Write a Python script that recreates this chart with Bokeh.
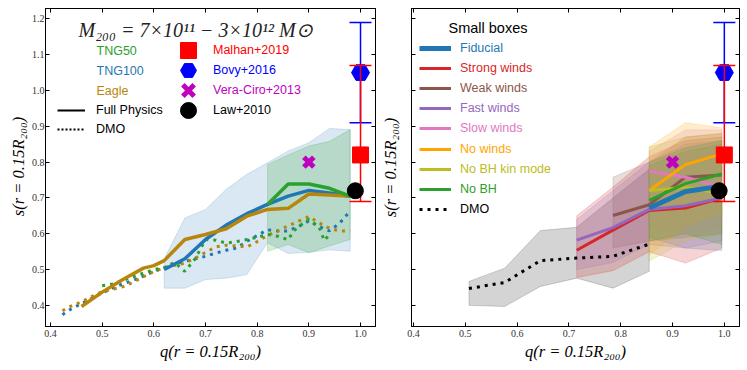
import math
from bokeh.plotting import figure
from bokeh.models import (Range1d, LinearAxis, FixedTicker, PrintfTickFormatter,
                          Legend, LegendItem, Label, ColumnDataSource)
from bokeh.layouts import row
from bokeh.embed import file_html
from bokeh.resources import INLINE

# ---------------- data ----------------
x_ticks = [0.4, 0.5, 0.6, 0.7, 0.8, 0.9, 1.0]
y_ticks = [0.4, 0.5, 0.6, 0.7, 0.8, 0.9, 1.0, 1.1, 1.2]
tick_format = "%.1f"

# Left panel: full physics medians
tng100_q = [0.62, 0.66, 0.70, 0.74, 0.78, 0.82, 0.86, 0.90, 0.94, 0.98]
tng100_s = [0.500, 0.530, 0.584, 0.624, 0.656, 0.682, 0.705, 0.721, 0.714, 0.705]
tng100_lo = [0.448, 0.448, 0.472, 0.476, 0.486, 0.575, 0.545, 0.548, 0.555, 0.551]
tng100_hi = [0.530, 0.644, 0.668, 0.724, 0.766, 0.798, 0.831, 0.854, 0.894, 0.891]

tng50_q = [0.82, 0.86, 0.90, 0.94, 0.98]
tng50_s = [0.682, 0.739, 0.739, 0.727, 0.705]
tng50_lo = [0.551, 0.570, 0.547, 0.566, 0.584]
tng50_hi = [0.793, 0.820, 0.845, 0.858, 0.891]

eagle_q = [0.46, 0.50, 0.54, 0.58, 0.60, 0.62, 0.66, 0.70, 0.74, 0.78, 0.82, 0.86, 0.90, 0.94, 0.98]
eagle_s = [0.397, 0.437, 0.472, 0.504, 0.511, 0.525, 0.584, 0.598, 0.614, 0.649, 0.668, 0.671, 0.711, 0.708, 0.705]

# Left panel: DMO
tng100_dmo_q = [0.423, 0.44, 0.46, 0.48, 0.50, 0.52, 0.54, 0.56, 0.58, 0.60, 0.62, 0.64, 0.66, 0.68,
                0.70, 0.72, 0.74, 0.76, 0.78, 0.80, 0.82, 0.84, 0.86, 0.88, 0.90, 0.92, 0.94, 0.96, 0.975]
tng100_dmo_s = [0.374, 0.390, 0.405, 0.420, 0.435, 0.448, 0.460, 0.470, 0.482, 0.495, 0.505, 0.515, 0.523, 0.530,
                0.537, 0.546, 0.554, 0.560, 0.579, 0.595, 0.611, 0.608, 0.608, 0.620, 0.636, 0.620, 0.608, 0.630, 0.655]
eagle_dmo_q = [0.423, 0.44, 0.46, 0.48, 0.50, 0.52, 0.54, 0.56, 0.58, 0.60, 0.62, 0.64, 0.66, 0.68,
               0.70, 0.72, 0.74, 0.76, 0.78, 0.80, 0.82, 0.84, 0.86, 0.88, 0.90, 0.92, 0.94, 0.96, 0.98]
eagle_dmo_s = [0.385, 0.398, 0.410, 0.425, 0.438, 0.445, 0.452, 0.465, 0.480, 0.495, 0.505, 0.512, 0.518, 0.532,
               0.548, 0.563, 0.568, 0.566, 0.563, 0.578, 0.595, 0.608, 0.622, 0.635, 0.648, 0.630, 0.615, 0.608, 0.608]
tng50_dmo_q = [0.50, 0.52, 0.54, 0.56, 0.58, 0.60, 0.62, 0.64, 0.66, 0.68, 0.70, 0.72, 0.74, 0.76,
               0.78, 0.80, 0.82, 0.84, 0.86, 0.87, 0.88, 0.90, 0.92, 0.93, 0.94]
tng50_dmo_s = [0.455, 0.460, 0.470, 0.480, 0.490, 0.500, 0.505, 0.520, 0.495, 0.530, 0.584, 0.582, 0.574, 0.578,
               0.584, 0.590, 0.598, 0.593, 0.583, 0.607, 0.620, 0.640, 0.618, 0.581, 0.598]

# Observations
obs_names = ["Malhan+2019", "Bovy+2016", "Vera-Ciro+2013", "Law+2010"]
obs_q = [1.0, 1.0, 0.90, 0.99]
obs_s = [0.82, 1.05, 0.80, 0.72]
malhan_lo, malhan_hi = 0.69, 1.07
bovy_lo, bovy_hi = 0.91, 1.19

# Right panel: small boxes
sb_names = ["Fiducial", "Strong winds", "Weak winds", "Fast winds", "Slow winds",
            "No winds", "No BH kin mode", "No BH"]
sb_q = {
    "Fiducial": [0.855, 0.925, 0.995],
    "Strong winds": [0.715, 0.785, 0.855, 0.925, 0.995],
    "Weak winds": [0.785, 0.855, 0.925, 0.995],
    "Fast winds": [0.715, 0.785, 0.855, 0.925, 0.995],
    "Slow winds": [0.855, 0.925, 0.995],
    "No winds": [0.855, 0.925, 0.995],
    "No BH kin mode": [0.855, 0.925, 0.995],
    "No BH": [0.855, 0.925, 0.995],
}
sb_s = {
    "Fiducial": [0.672, 0.718, 0.733],
    "Strong winds": [0.554, 0.610, 0.665, 0.672, 0.700],
    "Weak winds": [0.651, 0.681, 0.758, 0.764],
    "Fast winds": [0.582, 0.617, 0.668, 0.678, 0.700],
    "Slow winds": [0.775, 0.758, 0.730],
    "No winds": [0.721, 0.793, 0.823],
    "No BH kin mode": [0.721, 0.730, 0.712],
    "No BH": [0.693, 0.740, 0.767],
}
sb_lo = {
    "Fiducial": [0.590, 0.560, 0.553],
    "Strong winds": [0.478, 0.497, 0.550, 0.518, 0.560],
    "Weak winds": [0.560, 0.580, 0.590, 0.600],
    "Fast winds": [0.500, 0.520, 0.570, 0.560, 0.580],
    "Slow winds": [0.620, 0.600, 0.620],
    "No winds": [0.540, 0.620, 0.660],
    "No BH kin mode": [0.523, 0.580, 0.600],
    "No BH": [0.580, 0.600, 0.570],
}
sb_hi = {
    "Fiducial": [0.790, 0.830, 0.850],
    "Strong winds": [0.650, 0.730, 0.815, 0.860, 0.870],
    "Weak winds": [0.758, 0.800, 0.870, 0.880],
    "Fast winds": [0.640, 0.720, 0.800, 0.850, 0.860],
    "Slow winds": [0.830, 0.890, 0.890],
    "No winds": [0.842, 0.910, 0.896],
    "No BH kin mode": [0.842, 0.870, 0.880],
    "No BH": [0.800, 0.840, 0.860],
}
sb_dmo_q = [0.507, 0.576, 0.645, 0.715, 0.785, 0.855]
sb_dmo_s = [0.447, 0.464, 0.525, 0.532, 0.537, 0.571]
sb_dmo_lo = [0.400, 0.397, 0.453, 0.476, 0.448, 0.495]
sb_dmo_hi = [0.467, 0.504, 0.609, 0.618, 0.700, 0.780]

# ---------------- styles ----------------
SERIF = "Liberation Serif"
SANS = "Liberation Sans"
C_TNG50, C_TNG100, C_EAGLE = "#2ca02c", "#1f77b4", "#b8860b"
sb_colors = {
    "Fiducial": "#1f77b4", "Strong winds": "#d62728", "Weak winds": "#8c564b",
    "Fast winds": "#9467bd", "Slow winds": "#e377c2", "No winds": "#ffa500",
    "No BH kin mode": "#bcbd22", "No BH": "#2ca02c",
}
FRAME_H = 318
FT = 8  # page y of frame top
NAN = float("nan")
XLABEL = "q(r = 0.15R₂₀₀)"
YLABEL = "s(r = 0.15R₂₀₀)"
LABEL_W = 28


def fy(page_y):
    return FRAME_H - (page_y - FT)


def hide_labels(ax):
    ax.major_label_text_color = None
    ax.major_label_text_alpha = 0
    ax.major_label_text_font_size = "0px"
    ax.major_label_standoff = 0


def make_fig(xr, frame_w, mb_left, mb_right, show_ylabels):
    p = figure(frame_width=frame_w, frame_height=FRAME_H,
               x_range=Range1d(*xr), y_range=Range1d(0.341, 1.229),
               output_backend="svg", toolbar_location=None,
               min_border_left=mb_left, min_border_right=mb_right,
               min_border_top=FT, min_border_bottom=10)
    p.xgrid.visible = False
    p.ygrid.visible = False
    p.outline_line_color = "black"
    p.outline_line_alpha = 1.0
    p.background_fill_color = "white"
    p.border_fill_color = "white"
    p.xaxis.ticker = FixedTicker(ticks=x_ticks)
    p.yaxis.ticker = FixedTicker(ticks=y_ticks)
    p.xaxis.formatter = PrintfTickFormatter(format=tick_format)
    p.yaxis.formatter = PrintfTickFormatter(format=tick_format)
    for ax in p.axis:
        ax.major_tick_in = 4
        ax.major_tick_out = 0
        ax.minor_tick_in = 0
        ax.minor_tick_out = 0
        ax.axis_line_color = "black"
        ax.major_tick_line_color = "black"
        ax.major_label_text_font = SERIF
        ax.major_label_text_font_size = "10px"
        ax.major_label_text_color = "#333333"
        ax.major_label_standoff = 3
        ax.axis_label_text_font = SERIF
        ax.axis_label_text_font_style = "italic"
        ax.axis_label_text_font_size = "16.5px"
        ax.axis_label_text_color = "black"
    p.xaxis.axis_label = XLABEL
    p.xaxis.axis_label_standoff = 2
    if show_ylabels:
        p.yaxis.major_label_standoff = 1
    else:
        p.yaxis.axis_label = YLABEL
        for ax in p.yaxis:
            hide_labels(ax)
        p.yaxis.axis_label_standoff = 12
    for loc, tk in (("right", y_ticks), ("above", x_ticks)):
        ax = LinearAxis(ticker=FixedTicker(ticks=tk), major_tick_in=4, major_tick_out=0,
                        minor_tick_in=0, minor_tick_out=0, axis_line_color="black",
                        major_tick_line_color="black")
        hide_labels(ax)
        p.add_layout(ax, loc)
    return p


def add_leg(p, renderer, label, color, vx, page_y, glyph_w, standoff, size="12.5px"):
    leg = Legend(items=[LegendItem(label=label, renderers=[renderer])],
                 location=(vx, fy(page_y) - 20), glyph_width=glyph_w, glyph_height=40,
                 label_height=20, label_standoff=standoff, padding=0, margin=0, spacing=0,
                 border_line_alpha=0, background_fill_alpha=0,
                 label_text_color=color, label_text_font=SANS, label_text_font_size=size)
    p.add_layout(leg)


def add_text(p, text, color, x, page_y, font=SANS, size="12.5px", style="normal"):
    p.add_layout(Label(x=x, y=fy(page_y), x_units="screen", y_units="screen", text=text,
                       text_color=color, text_font=font, text_font_size=size,
                       text_font_style=style, text_baseline="middle", text_align="left"))


def band(p, q, lo, hi, color, alpha=0.2):
    p.patch(list(q) + list(q)[::-1], list(hi) + list(lo)[::-1],
            fill_color=color, fill_alpha=alpha, line_color=color, line_alpha=alpha, line_width=1)


def draw_obs(p):
    bovy = ColumnDataSource(dict(q=[obs_q[1]], s=[obs_s[1]], lo=[bovy_lo], hi=[bovy_hi]))
    malhan = ColumnDataSource(dict(q=[obs_q[0]], s=[obs_s[0]], lo=[malhan_lo], hi=[malhan_hi]))
    p.segment(x0="q", y0="lo", x1="q", y1="hi", source=bovy, line_color="#0000ff", line_width=1.5)
    p.scatter(x="q", y="lo", source=bovy, marker="dash", size=22, line_color="#0000ff", line_width=1.5)
    p.scatter(x="q", y="hi", source=bovy, marker="dash", size=22, line_color="#0000ff", line_width=1.5)
    r_b = p.scatter(x="q", y="s", source=bovy, marker="hex", size=18, fill_color="#0000ff", line_color="#0000ff")
    p.segment(x0="q", y0="lo", x1="q", y1="hi", source=malhan, line_color="#ff0000", line_width=1.5)
    p.scatter(x="q", y="lo", source=malhan, marker="dash", size=22, line_color="#ff0000", line_width=1.5)
    p.scatter(x="q", y="hi", source=malhan, marker="dash", size=22, line_color="#ff0000", line_width=1.5)
    r_m = p.scatter(x="q", y="s", source=malhan, marker="square", size=16, fill_color="#ff0000", line_color="#ff0000")
    r_v = p.scatter(x=[obs_q[2]], y=[obs_s[2]], marker="x", size=14, line_color="#bf00bf", line_width=5)
    r_l = p.scatter(x=[obs_q[3]], y=[obs_s[3]], marker="circle", size=16, fill_color="black", line_color="black")
    return [r_m, r_b, r_v, r_l]


# ---------------- y-label strip for the left panel ----------------
p0 = figure(frame_width=LABEL_W, frame_height=FRAME_H, x_range=Range1d(0, 1), y_range=Range1d(0, 1),
            output_backend="svg", toolbar_location=None, x_axis_type=None, y_axis_type=None,
            min_border_left=0, min_border_right=0, min_border_top=FT, min_border_bottom=0)
p0.outline_line_color = None
p0.xgrid.visible = False
p0.ygrid.visible = False
p0.add_layout(Label(x=17.5, y=FRAME_H / 2 + 1, x_units="screen", y_units="screen", text=YLABEL,
                    angle=math.pi / 2, text_align="center", text_baseline="middle",
                    text_font=SERIF, text_font_style="italic", text_font_size="16.5px",
                    text_color="black"))

# ---------------- left panel ----------------
p1 = make_fig((0.3903, 1.029), 330, 45 - LABEL_W, 2, True)
band(p1, tng100_q, tng100_lo, tng100_hi, C_TNG100, 0.17)
band(p1, tng50_q, tng50_lo, tng50_hi, C_TNG50, 0.2)
for q, s, c in ((tng100_dmo_q, tng100_dmo_s, C_TNG100), (eagle_dmo_q, eagle_dmo_s, C_EAGLE),
                (tng50_dmo_q, tng50_dmo_s, C_TNG50)):
    p1.line(q, s, line_color=c, line_width=3, line_dash="3 5")
p1.line(tng100_q, tng100_s, line_color=C_TNG100, line_width=3.5)
p1.line(eagle_q, eagle_s, line_color=C_EAGLE, line_width=3.5)
p1.line(tng50_q, tng50_s, line_color=C_TNG50, line_width=3.5)
obs_r1 = draw_obs(p1)
# legend-only style keys (no data drawn)
r_fp = p1.line(x=[NAN, NAN], y=[NAN, NAN], line_color="black", line_width=2)
r_dm = p1.line(x=[NAN, NAN], y=[NAN, NAN], line_color="black", line_width=2, line_dash="2 2")

add_text(p1, "M₂₀₀ = 7×10¹¹ − 3×10¹² M⊙", "#222222", 33, 29,
         font=SERIF, size="20px", style="italic")
add_text(p1, "TNG50", C_TNG50, 51, 50)
add_text(p1, "TNG100", C_TNG100, 51, 70)
add_text(p1, "Eagle", C_EAGLE, 51, 90)
add_leg(p1, r_fp, "Full Physics", "black", 12, 110, 28, 11)
add_leg(p1, r_dm, "DMO", "black", 12, 129, 28, 11)
obs_cols = ["#ff0000", "#0000ff", "#bf00bf", "black"]
for i, (r, name, c) in enumerate(zip(obs_r1, obs_names, obs_cols)):
    add_leg(p1, r, name, c, 123, 50 + 20 * i, 40, 5)

# ---------------- right panel ----------------
p2 = make_fig((0.396, 1.0293), 328, 33, 1, False)
band(p2, sb_dmo_q, sb_dmo_lo, sb_dmo_hi, "black", 0.17)
for name in sb_names:
    band(p2, sb_q[name], sb_lo[name], sb_hi[name], sb_colors[name], 0.2)
sb_r = {}
for name in sb_names[1:] + sb_names[:1]:
    sb_r[name] = p2.line(sb_q[name], sb_s[name], line_color=sb_colors[name],
                         line_width=5 if name == "Fiducial" else 3)
r_sdmo = p2.line(sb_dmo_q, sb_dmo_s, line_color="black", line_width=3, line_dash="3 5")
draw_obs(p2)

add_text(p2, "Small boxes", "black", 37, 27, size="14.5px")
for i, name in enumerate(sb_names):
    add_leg(p2, sb_r[name], name, sb_colors[name], 8, 48 + 20.1 * i, 32, 9)
add_leg(p2, r_sdmo, "DMO", "black", 8, 209, 32, 9)

layout = row(p0, p1, p2)
open("out.html", "w").write(file_html(layout, INLINE))
